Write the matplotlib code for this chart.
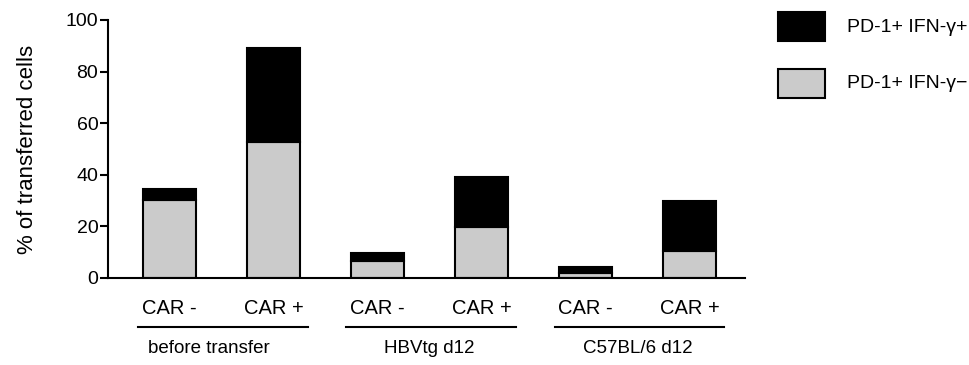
import matplotlib
matplotlib.use("Agg")
import matplotlib.pyplot as plt
from matplotlib.patches import Rectangle
import numpy as np

plt.rcParams['font.family'] = ['Liberation Sans', 'DejaVu Sans']

bar_labels = ["CAR -", "CAR +", "CAR -", "CAR +", "CAR -", "CAR +"]
groups = ["before transfer", "HBVtg d12", "C57BL/6 d12"]
ifn_neg = [30.1, 52.6, 6.6, 19.9, 2.1, 10.6]   # PD-1+ IFN-γ- (gray, bottom)
ifn_pos = [4.3, 36.4, 3.0, 19.4, 2.0, 19.2]    # PD-1+ IFN-γ+ (black, top)
yticks = [0, 20, 40, 60, 80, 100]
legend_labels = ["PD-1+ IFN-\u03b3+", "PD-1+ IFN-\u03b3\u2212"]
legend_colors = ["black", "#cbcbcb"]

W, H = 969, 365
fig = plt.figure(figsize=(W/100, H/100), dpi=100)
ax = fig.add_axes([108/W, 1-278/H, (745-108)/W, 258/H])

x = np.arange(len(bar_labels))
w = 0.51
b1 = ax.bar(x, ifn_neg, w, color=legend_colors[1], edgecolor='black', linewidth=1.5, zorder=2)
b2 = ax.bar(x, ifn_pos, w, bottom=ifn_neg, color=legend_colors[0], edgecolor='black', linewidth=1.5, zorder=2)

ax.set_xlim(-0.59, 5.53)
ax.set_ylim(0, 100)
ax.set_yticks(yticks)
ax.set_xticks([])
for s in ['top', 'right']:
    ax.spines[s].set_visible(False)
for s in ['left', 'bottom']:
    ax.spines[s].set_linewidth(1.5)
ax.tick_params(axis='y', length=6, width=1.5, labelsize=14, pad=1)
ax.set_ylabel("% of transferred cells", fontsize=16, labelpad=20)

trans = ax.get_xaxis_transform()
for xi, lab in zip(x, bar_labels):
    ax.text(xi, -0.118, lab, transform=trans, ha='center', va='center', fontsize=14.5)
group_shift = [-0.12, 0.0, 0.0]
for i, g in enumerate(groups):
    x0, x1 = 2*i - 0.3, 2*i + 1.33
    ax.plot([x0, x1], [-0.19, -0.19], transform=trans, color='black', lw=1.5, clip_on=False)
    ax.text(2*i + 0.5 + group_shift[i], -0.275, g, transform=trans, ha='center', va='center', fontsize=13.5)

# legend drawn manually in figure pixel coordinates
for k, (lab, col) in enumerate(zip(legend_labels, legend_colors)):
    top = 12 + k*57
    fig.patches.append(Rectangle((778/W, 1-(top+29)/H), 47/W, 29/H, transform=fig.transFigure,
                                 facecolor=col, edgecolor='black', linewidth=1.5))
    fig.text(847/W, 1-(top+15)/H, lab, ha='left', va='center', fontsize=14)

fig.savefig("out.png", dpi=100)
